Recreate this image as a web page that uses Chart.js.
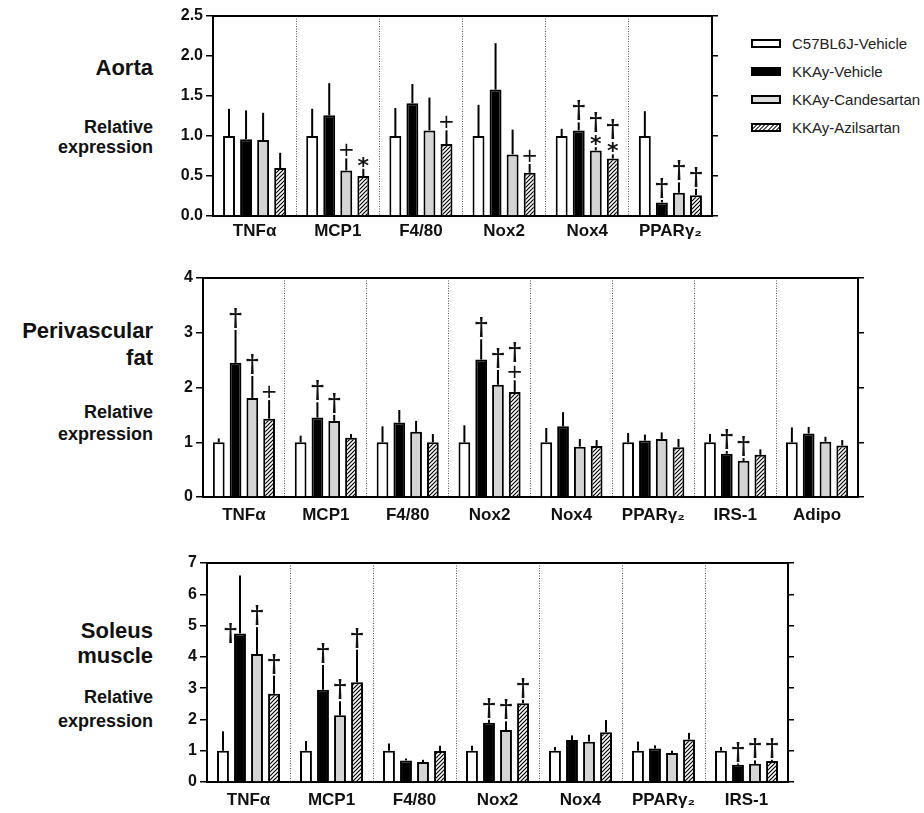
<!DOCTYPE html>
<html>
<head>
<meta charset="utf-8">
<script src="https://cdn.jsdelivr.net/npm/chart.js@4.4.1/dist/chart.umd.min.js"></script>
<style>
body { margin:0; background:#fff; width:924px; height:813px; position:relative; overflow:hidden;
       font-family:'Liberation Sans', Arial, sans-serif; }
canvas { position:absolute; }
.lbl { position:absolute; right:771px; text-align:right; font-weight:bold; color:#111; line-height:1; white-space:nowrap; }
.ttl { font-size:22px; }
.sub { font-size:18px; }
#legend { position:absolute; left:751px; top:29px; }
#legend div { height:28px; display:flex; align-items:center; font-size:15px; color:#222; }
#legend span { display:inline-block; width:26px; height:5px; border:2.5px solid #000; margin-right:11px; }
</style>
</head>
<body>

<div class="lbl ttl" style="top:57px">Aorta</div>
<div class="lbl sub" style="top:118px">Relative</div>
<div class="lbl sub" style="top:138px">expression</div>

<div class="lbl ttl" style="top:320px">Perivascular</div>
<div class="lbl ttl" style="top:347px">fat</div>
<div class="lbl sub" style="top:403px">Relative</div>
<div class="lbl sub" style="top:425px">expression</div>

<div class="lbl ttl" style="top:620px">Soleus</div>
<div class="lbl ttl" style="top:645px">muscle</div>
<div class="lbl sub" style="top:688px">Relative</div>
<div class="lbl sub" style="top:712px">expression</div>

<div id="legend"></div>

<canvas id="aorta"></canvas>
<canvas id="peri"></canvas>
<canvas id="soleus"></canvas>

<script>
var groups = ['C57BL6J-Vehicle', 'KKAy-Vehicle', 'KKAy-Candesartan', 'KKAy-Azilsartan'];

// Aorta
var aortaGenes = ['TNFα', 'MCP1', 'F4/80', 'Nox2', 'Nox4', 'PPARγ₂'];
var aortaC57  = [1.00, 1.00, 1.00, 1.00, 1.00, 1.00];
var aortaKKAy = [0.96, 1.26, 1.41, 1.58, 1.07, 0.17];
var aortaCand = [0.95, 0.57, 1.07, 0.77, 0.82, 0.29];
var aortaAzil = [0.60, 0.50, 0.90, 0.54, 0.72, 0.26];
var aortaC57Err  = [0.34, 0.34, 0.35, 0.39, 0.09, 0.31];
var aortaKKAyErr = [0.36, 0.40, 0.24, 0.58, 0.10, 0.03];
var aortaCandErr = [0.34, 0.15, 0.41, 0.31, 0.04, 0.13];
var aortaAzilErr = [0.19, 0.09, 0.17, 0.11, 0.05, 0.08];
// [gene, group, symbols]
var aortaMarks = [[1,2,'+'], [1,3,'*'], [2,3,'+'], [3,3,'+'], [4,1,'†'], [4,2,'†*'], [4,3,'†*'],
                  [5,1,'†'], [5,2,'†'], [5,3,'†']];

// Perivascular fat
var periGenes = ['TNFα', 'MCP1', 'F4/80', 'Nox2', 'Nox4', 'PPARγ₂', 'IRS-1', 'Adipo'];
var periC57  = [1.00, 1.00, 1.00, 1.00, 1.00, 1.00, 1.00, 1.00];
var periKKAy = [2.45, 1.45, 1.36, 2.51, 1.29, 1.03, 0.79, 1.16];
var periCand = [1.81, 1.39, 1.19, 2.05, 0.92, 1.06, 0.66, 1.01];
var periAzil = [1.43, 1.08, 1.00, 1.92, 0.93, 0.91, 0.77, 0.94];
var periC57Err  = [0.07, 0.12, 0.29, 0.31, 0.26, 0.17, 0.15, 0.27];
var periKKAyErr = [0.60, 0.28, 0.23, 0.37, 0.26, 0.11, 0.05, 0.12];
var periCandErr = [0.40, 0.11, 0.20, 0.27, 0.14, 0.12, 0.05, 0.09];
var periAzilErr = [0.34, 0.07, 0.15, 0.21, 0.11, 0.15, 0.10, 0.10];
var periMarks = [[0,1,'†'], [0,2,'†'], [0,3,'+'], [1,1,'†'], [1,2,'†'], [3,1,'†'], [3,2,'†'], [3,3,'†+'],
                 [6,1,'†'], [6,2,'†']];

// Soleus muscle
var soleusGenes = ['TNFα', 'MCP1', 'F4/80', 'Nox2', 'Nox4', 'PPARγ₂', 'IRS-1'];
var soleusC57  = [1.00, 1.00, 1.00, 1.00, 1.00, 1.00, 1.00];
var soleusKKAy = [4.75, 2.95, 0.69, 1.89, 1.34, 1.07, 0.55];
var soleusCand = [4.09, 2.13, 0.64, 1.66, 1.29, 0.93, 0.58];
var soleusAzil = [2.82, 3.19, 0.99, 2.52, 1.59, 1.36, 0.67];
var soleusC57Err  = [0.62, 0.31, 0.23, 0.16, 0.12, 0.29, 0.12];
var soleusKKAyErr = [1.85, 0.79, 0.06, 0.10, 0.15, 0.10, 0.04];
var soleusCandErr = [0.86, 0.45, 0.07, 0.28, 0.22, 0.07, 0.11];
var soleusAzilErr = [0.58, 1.04, 0.17, 0.11, 0.39, 0.21, 0.04];
// 'left' = mark drawn beside the bar instead of above its error bar
var soleusMarks = [[0,1,'†','left'], [0,2,'†'], [0,3,'†'], [1,1,'†'], [1,2,'†'], [1,3,'†'],
                   [3,1,'†'], [3,2,'†'], [3,3,'†'], [6,1,'†'], [6,2,'†'], [6,3,'†']];

function hatchPattern() {
    var c = document.createElement('canvas');
    c.width = 4; c.height = 4;
    var g = c.getContext('2d');
    g.fillStyle = '#fff';
    g.fillRect(0, 0, 4, 4);
    g.strokeStyle = '#000';
    g.lineWidth = 1.2;
    g.beginPath();
    g.moveTo(0, 4); g.lineTo(4, 0);
    g.moveTo(-1, 1); g.lineTo(1, -1);
    g.moveTo(3, 5); g.lineTo(5, 3);
    g.stroke();
    return g.createPattern(c, 'repeat');
}

var fills = ['#ffffff', '#000000', '#d4d4d4', hatchPattern()];

var symFont = {
    '†': 'bold 25px "DejaVu Serif"',
    '+': '20px "DejaVu Sans"',
    '*': 'bold 22px "DejaVu Sans"'
};

// error bars (upper only, no caps) and significance marks
function annotations(marks) {
    return {
        id: 'annotations',
        afterDatasetsDraw: function(chart) {
            var ctx = chart.ctx, y = chart.scales.y;
            ctx.save();
            ctx.strokeStyle = '#000';
            ctx.lineWidth = 2;
            chart.data.datasets.forEach(function(ds, di) {
                chart.getDatasetMeta(di).data.forEach(function(bar, i) {
                    var top = y.getPixelForValue(ds.data[i] + ds.errors[i]);
                    ctx.beginPath();
                    ctx.moveTo(bar.x, bar.y);
                    ctx.lineTo(bar.x, top);
                    ctx.stroke();
                });
            });
            ctx.fillStyle = '#111';
            ctx.textAlign = 'center';
            ctx.textBaseline = 'alphabetic';
            marks.forEach(function(m) {
                var ds = chart.data.datasets[m[1]];
                var bar = chart.getDatasetMeta(m[1]).data[m[0]];
                var syms = m[2].split('');
                var x = bar.x;
                var base = y.getPixelForValue(ds.data[m[0]] + ds.errors[m[0]]) - 2;
                if (m[3] === 'left') {
                    ctx.font = symFont[syms[0]];
                    var t = ctx.measureText(syms[0]);
                    var cy = y.getPixelForValue(ds.data[m[0]]);
                    ctx.fillText(syms[0], bar.x - bar.width * 0.8,
                        cy + (t.actualBoundingBoxAscent - t.actualBoundingBoxDescent) / 2);
                    return;
                }
                for (var k = syms.length - 1; k >= 0; k--) {
                    ctx.font = symFont[syms[k]];
                    var mt = ctx.measureText(syms[k]);
                    var bl = base - mt.actualBoundingBoxDescent;
                    ctx.fillText(syms[k], x, bl);
                    base = bl - mt.actualBoundingBoxAscent - 3;
                }
            });
            ctx.restore();
        }
    };
}

function makePanel(id, genes, values, errors, marks, yMax, decimals, area, labelPad) {
    var axisW = 60, axisH = 34, padTop = 16, padRight = 10;
    var cv = document.getElementById(id);
    var left = area.left - axisW, top = area.top - padTop;
    cv.width = area.right - left + padRight + 8;
    cv.height = area.bottom - top + axisH;
    cv.style.left = left + 'px';
    cv.style.top = top + 'px';

    var datasets = groups.map(function(g, i) {
        return {
            label: g,
            data: values[i],
            errors: errors[i],
            backgroundColor: fills[i],
            borderColor: '#000',
            borderWidth: 2,
            categoryPercentage: 0.82,
            barPercentage: 0.7
        };
    });

    return new Chart(cv, {
        type: 'bar',
        data: { labels: genes, datasets: datasets },
        options: {
            responsive: false,
            animation: false,
            devicePixelRatio: 1,
            layout: { padding: { top: padTop, right: padRight, left: 0, bottom: 0 } },
            plugins: { legend: { display: false }, tooltip: { enabled: false } },
            scales: {
                x: {
                    grid: { display: true, drawOnChartArea: true, drawTicks: false, color: '#555', lineWidth: 1 },
                    border: { display: true, color: '#000', width: 2, dash: [1, 1.5] },
                    ticks: { color: '#111', padding: labelPad, font: { family: 'Liberation Sans', size: 17, weight: 'bold' } },
                    afterFit: function(s) { s.height = axisH; }
                },
                xTop: {
                    type: 'category',
                    position: 'top',
                    labels: genes,
                    grid: { display: false },
                    ticks: { display: false },
                    border: { display: true, color: '#000', width: 2 },
                    afterFit: function(s) { s.height = 0; }
                },
                y: {
                    min: 0,
                    max: yMax,
                    ticks: {
                        stepSize: decimals ? 0.5 : 1,
                        color: '#111',
                        padding: 3,
                        font: { family: 'Liberation Sans', size: 16, weight: 'bold' },
                        callback: function(v) { return v.toFixed(decimals); }
                    },
                    grid: { drawOnChartArea: false, drawTicks: true, tickLength: 7, color: '#000', lineWidth: 1.5 },
                    border: { display: true, color: '#000', width: 2 },
                    afterFit: function(s) { s.width = axisW; }
                },
                yRight: {
                    position: 'right',
                    min: 0,
                    max: yMax,
                    ticks: { display: false, stepSize: decimals ? 0.5 : 1 },
                    grid: { drawOnChartArea: false, drawTicks: true, tickLength: 6, color: '#000', lineWidth: 1.5 },
                    border: { display: true, color: '#000', width: 2 },
                    afterFit: function(s) { s.width = 8; }
                }
            }
        },
        plugins: [annotations(marks)]
    });
}

makePanel('aorta', aortaGenes,
    [aortaC57, aortaKKAy, aortaCand, aortaAzil],
    [aortaC57Err, aortaKKAyErr, aortaCandErr, aortaAzilErr],
    aortaMarks, 2.5, 1, { left: 213, top: 16, right: 712, bottom: 216 }, 5);

makePanel('peri', periGenes,
    [periC57, periKKAy, periCand, periAzil],
    [periC57Err, periKKAyErr, periCandErr, periAzilErr],
    periMarks, 4, 0, { left: 203, top: 278, right: 858, bottom: 497 }, 8);

makePanel('soleus', soleusGenes,
    [soleusC57, soleusKKAy, soleusCand, soleusAzil],
    [soleusC57Err, soleusKKAyErr, soleusCandErr, soleusAzilErr],
    soleusMarks, 7, 0, { left: 207, top: 563, right: 788, bottom: 782 }, 8);

// legend
var swatches = ['#fff', '#000', '#dcdcdc',
    'repeating-linear-gradient(135deg, #fff 0 1.5px, #555 1.5px 3px)'];
var legend = document.getElementById('legend');
groups.forEach(function(g, i) {
    var row = document.createElement('div');
    var sw = document.createElement('span');
    sw.style.background = swatches[i];
    row.appendChild(sw);
    row.appendChild(document.createTextNode(g));
    legend.appendChild(row);
});
</script>
</body>
</html>
